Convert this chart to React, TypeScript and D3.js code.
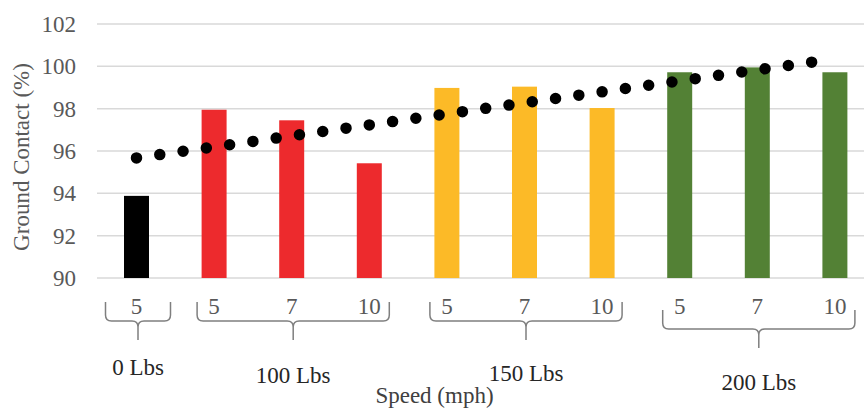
import React from "react";
import * as d3 from "d3";

// ---- data ----
const speedLabels = ["5", "5", "7", "10", "5", "7", "10", "5", "7", "10"];
const groupIndex = [0, 1, 1, 1, 2, 2, 2, 3, 3, 3];
const groupLabels = ["0 Lbs", "100 Lbs", "150 Lbs", "200 Lbs"];
const groundContact = [93.88, 97.95, 97.45, 95.42, 98.98, 99.04, 98.03, 99.72, 99.95, 99.72];
const yTicks = [90, 92, 94, 96, 98, 100, 102];
const groupColors = ["#000000", "#ED2A2D", "#FCBA27", "#538135"];
const yTitle = "Ground Contact (%)";
const xTitle = "Speed (mph)";

const W = 864;
const H = 410;
const FONT = "'Liberation Serif', 'Times New Roman', 'DejaVu Serif', serif";

export default function App() {
  const idx = groundContact.map((_, i) => i);
  const x = d3
    .scaleBand<number>()
    .domain(idx)
    .range([97.7, 873.7])
    .paddingInner(0.678)
    .paddingOuter(0.339);
  const y = d3.scaleLinear().domain([90, 102]).range([278, 24]);
  const cx = (i: number) => (x(i) as number) + x.bandwidth() / 2;

  // linear trendline (least squares, as the chart's trendline)
  const n = groundContact.length;
  const xs = idx.map((i) => i + 1);
  const mx = d3.mean(xs) as number;
  const my = d3.mean(groundContact) as number;
  const slope =
    d3.sum(xs.map((v, i) => (v - mx) * (groundContact[i] - my))) /
    d3.sum(xs.map((v) => (v - mx) * (v - mx)));
  const icpt = my - slope * mx;
  const step = x.step();
  const tX = d3.scaleLinear().domain([1, n]).range([cx(0), cx(n - 1)]);
  const tEnd = n - 0.26;
  const trendLine = d3
    .line<number>()
    .x((v) => tX(v))
    .y((v) => y(icpt + slope * v));
  const trendPath = trendLine([1, tEnd]) as string;
  const dotGap = step * 0.3 * Math.sqrt(1 + Math.pow((y(0) - y(slope)) / step, 2));

  // group layout
  const groupsIdx = groupLabels.map((_, g) => idx.filter((i) => groupIndex[i] === g));
  const braceShift = [0, 0, 0, 8];
  const labelBaseline = [375, 383, 381, 390];

  const braceTop = 302;
  const braceMid = 321;
  const braceBot = 340;
  const r = 6;

  return (
    <svg width={W} height={H} style={{ display: "block", position: "absolute", left: 0, top: 0 }}>
      <rect width={W} height={H} fill="#ffffff" />
      {/* gridlines */}
      {yTicks.map((t) => (
        <line key={t} x1={97} x2={W} y1={y(t)} y2={y(t)} stroke="#d9d9d9" strokeWidth={1.5} />
      ))}
      {/* y tick labels */}
      {yTicks.map((t) => (
        <text key={"l" + t} x={76} y={y(t) + 8} textAnchor="end" fontSize={23} fill="#595959" fontFamily={FONT}>
          {String(t)}
        </text>
      ))}
      <text
        transform={`translate(29,${(y(90) + y(102)) / 2 + 6}) rotate(-90)`}
        textAnchor="middle"
        fontSize={23}
        fill="#595959"
        fontFamily={FONT}
      >
        {yTitle}
      </text>
      {/* bars */}
      {groundContact.map((v, i) => (
        <rect
          key={i}
          x={x(i)}
          y={y(v)}
          width={x.bandwidth()}
          height={y(90) - y(v)}
          fill={groupColors[groupIndex[i]]}
        />
      ))}
      {/* trendline */}
      <path
        d={trendPath}
        fill="none"
        stroke="#000"
        strokeWidth={11.5}
        strokeLinecap="round"
        strokeDasharray={`0 ${dotGap}`}
      />
      {/* speed labels */}
      {speedLabels.map((s, i) => (
        <text key={"s" + i} x={cx(i)} y={314} textAnchor="middle" fontSize={23} fill="#595959" fontFamily={FONT}>
          {s}
        </text>
      ))}
      {/* braces + group labels */}
      {groupsIdx.map((ids, g) => {
        const single = ids.length === 1;
        const left = cx(ids[0]) - (single ? 31 : 17);
        const right = cx(ids[ids.length - 1]) + (single ? 34 : 20);
        const mid = (left + right) / 2;
        const s = braceShift[g];
        const t = braceTop + s;
        const m = braceMid + s;
        const b = braceBot + s;
        const d = [
          `M${left},${t}`,
          `L${left},${m - r}`,
          `Q${left},${m} ${left + r},${m}`,
          `L${mid - r},${m}`,
          `Q${mid},${m} ${mid},${m + r}`,
          `L${mid},${b}`,
          `M${mid},${m + r}`,
          `Q${mid},${m} ${mid + r},${m}`,
          `L${right - r},${m}`,
          `Q${right},${m} ${right},${m - r}`,
          `L${right},${t}`,
        ].join(" ");
        return (
          <g key={"g" + g}>
            <path d={d} fill="none" stroke="#7f7f7f" strokeWidth={1.5} />
            <text x={mid} y={labelBaseline[g]} textAnchor="middle" fontSize={23} fill="#262626" fontFamily={FONT}>
              {groupLabels[g]}
            </text>
          </g>
        );
      })}
      <text x={434.5} y={403} textAnchor="middle" fontSize={23} fill="#404040" fontFamily={FONT}>
        {xTitle}
      </text>
    </svg>
  );
}
